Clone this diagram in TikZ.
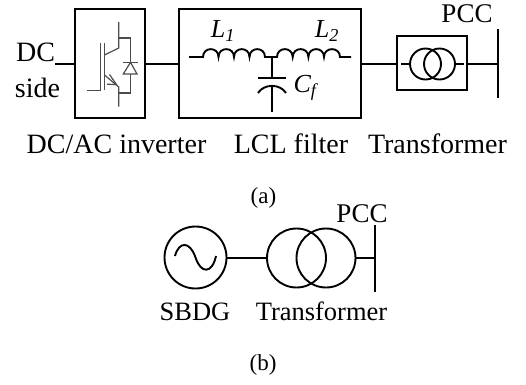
\documentclass[tikz,border=0pt]{standalone}
\usepackage{fontspec}
\setmainfont{Liberation Serif}
\usetikzlibrary{arrows.meta}
\tikzset{
  wire/.style={draw=black,line width=1.9pt},
  thin wire/.style={draw=black!70,line width=1.2pt},
  blockbox/.style={draw=black,line width=2pt,inner sep=0pt,fill=none},
  ring/.style={circle,draw=black,line width=1.9pt,inner sep=0pt,fill=none},
  busbar/.style={draw=black,line width=1.9pt},
  lab/.style={inner sep=0pt,font=\fontsize{28}{28}\selectfont,text=black},
  pcclab/.style={inner sep=0pt,font=\fontsize{27}{27}\selectfont,text=black},
  sublab/.style={inner sep=0pt,font=\fontsize{26.5}{26.5}\selectfont,text=black},
  symlab/.style={inner sep=0pt,font=\fontsize{26}{26}\selectfont,text=black},
  caplab/.style={inner sep=0pt,font=\fontsize{23}{23}\selectfont,text=black}
}
\begin{document}
\begin{tikzpicture}[x=1pt,y=-1pt]
\useasboundingbox (0,0) rectangle (526,384);
% blocks
\node[blockbox,minimum width=70pt,minimum height=109pt] (inv) at (110,63.5) {};
\node[blockbox,minimum width=182pt,minimum height=109pt] (filt) at (270,63.5) {};
\node[blockbox,minimum width=70pt,minimum height=54pt] (trbox) at (432,63) {};
% part a connectors
\coordinate (dcend) at (55,64);
\coordinate (bus1) at (498,64);
\draw[wire] (dcend) -- (inv.west |- dcend);
\draw[wire] (inv.east |- dcend) -- (filt.west |- dcend);
\draw[wire] (filt.east |- dcend) -- (trbox.west |- dcend);
\draw[wire] (trbox.east |- dcend) -- (bus1);
\coordinate (bus1t) at (498,29);
\coordinate (bus1b) at (498,98);
\draw[busbar] (bus1t) -- (bus1b);
% transformer a
\node[ring,minimum size=31pt] (t1) at (425.5,64) {};
\node[ring,minimum size=31pt] (t2) at (439.5,64) {};
\coordinate (s1) at (401,64);
\coordinate (s2) at (464,64);
\draw[wire,line width=1.2pt] (s1) -- (t1.west);
\draw[wire,line width=1.2pt] (t2.east) -- (s2);
% IGBT
\draw[thin wire] (87,90.7) -- (100.7,90.7) -- (100.7,43);
\draw[thin wire] (104.5,43) -- (104.5,90);
\draw[thin wire] (118.7,22) -- (118.7,48) -- (104.5,55);
\draw[thin wire] (104.5,75) -- (118.7,87) -- (118.7,106.7);
\draw[thin wire] (118.7,38) -- (130.7,38) -- (130.7,93) -- (118.7,93);
\draw[thin wire,fill=white] (130.5,62.3) -- (123.3,74) -- (137,74) -- cycle;
\draw[thin wire] (123,62.3) -- (138,62.3);
\draw[thin wire] (109.5,74.5) -- (116.5,84.6) -- (107,84.2);
% filter
\draw[wire] (189,57) -- (203,57)
  .. controls (203,46.5) and (218.5,46.5) .. (218.5,57)
  .. controls (218.5,46.5) and (234,46.5) .. (234,57)
  .. controls (234,46.5) and (249.5,46.5) .. (249.5,57)
  .. controls (249.5,46.5) and (265,46.5) .. (265,57)
  -- (277,57)
  .. controls (277,46.5) and (292.7,46.5) .. (292.7,57)
  .. controls (292.7,46.5) and (308.4,46.5) .. (308.4,57)
  .. controls (308.4,46.5) and (324,46.5) .. (324,57)
  .. controls (324,46.5) and (340,46.5) .. (340,57)
  -- (351,57);
\draw[wire] (272,57) -- (272,78);
\draw[wire] (258,78) -- (286,78);
\draw[wire] (258,93) .. controls (264,83.5) and (280,83.5) .. (286,93);
\draw[wire] (272,86) -- (272,112);
% labels a
\node[lab] (dc) at (35.5,52) {DC};
\node[lab] (side) at (37.5,88) {side};
\node[pcclab] (pcc1) at (467,14) {PCC};
\node[symlab] (l1) at (223,31) {\textit{L\textsubscript{1}}};
\node[symlab] (l2) at (327,31) {\textit{L}\textsubscript{\textit{2}}};
\node[symlab] (cf) at (305,88) {\textit{C\textsubscript{f}}};
\node[lab,anchor=base] (linv) at (116.5,153) {DC/AC inverter};
\node[lab,anchor=base] (llcl) at (291,153) {LCL filter};
\node[lab,anchor=base] (ltr1) at (437.5,153) {Transformer};
\node[caplab] (capa) at (263.5,198) {(a)};
% part b
\node[ring,minimum size=62pt] (src) at (195.5,257.5) {};
\draw[wire] (175,256) .. controls (179,241) and (190,241) .. (195.5,257.5)
  .. controls (201,274) and (212,274) .. (216,256);
\node[ring,minimum size=59pt] (t3) at (296.5,258) {};
\node[ring,minimum size=59pt] (t4) at (326,258) {};
\coordinate (bus2) at (375,258);
\coordinate (bus2t) at (375,225);
\coordinate (bus2b) at (375,292);
\draw[wire] (src.east |- bus2) -- (t3.west |- bus2);
\draw[wire] (t4.east) -- (bus2);
\draw[busbar] (bus2t) -- (bus2b);
\node[pcclab] (pcc2) at (362,214) {PCC};
\node[sublab,anchor=base] (lsb) at (195,320) {SBDG};
\node[sublab,anchor=base] (ltr2) at (321.5,320) {Transformer};
\node[caplab] (capb) at (263,365) {(b)};
\end{tikzpicture}
\end{document}
